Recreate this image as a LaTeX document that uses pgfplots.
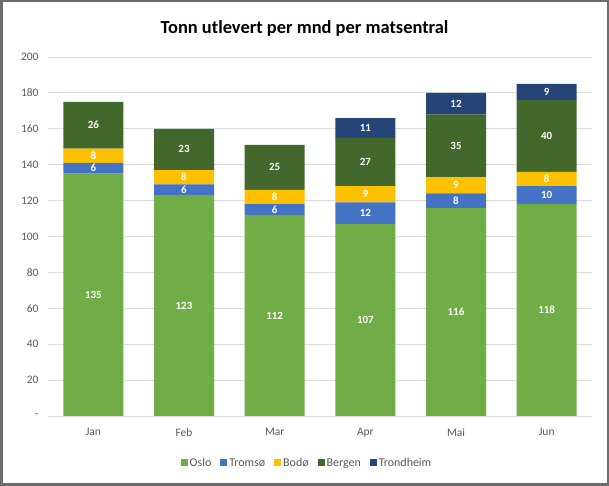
\documentclass[border=0pt]{standalone}
\usepackage{fontspec}
\setmainfont{Carlito}
\usepackage{pgfplots}
\pgfplotsset{compat=1.18}
\usepackage{pgfplotstable}

\definecolor{oslo}{HTML}{70AD47}
\definecolor{tromso}{HTML}{4472C4}
\definecolor{bodo}{HTML}{FFC000}
\definecolor{bergen}{HTML}{43682B}
\definecolor{trond}{HTML}{264478}
\definecolor{gridgray}{HTML}{D9D9D9}
\definecolor{txtgray}{HTML}{595959}

% tonn per month, one column per matsentral
\pgfplotstableread{
x oslo tromso bodo bergen trond
0 135 6 8 26 0
1 123 6 8 23 0
2 112 6 8 25 0
3 107 12 9 27 11
4 116 8 9 35 12
5 118 10 8 40 9
}\datatable

\begin{document}
\begin{tikzpicture}[x=1bp,y=1bp]
\path[use as bounding box] (0,0) rectangle (609,486);
\draw[line width=2.5bp, draw=gray!85!black, fill=white] (1.25,1.25) rectangle (607.75,484.75);
\node[font=\bfseries\fontsize{18.5}{22}\selectfont] at (304.5,458) {Tonn utlevert per mnd per matsentral};

\begin{axis}[
    at={(48bp,70bp)}, anchor=south west,
    scale only axis,
    width=544bp, height=359bp,
    ybar stacked,
    bar width=60bp,
    xmin=-0.5, xmax=5.5,
    ymin=0, ymax=200,
    xtick={0,...,5},
    xticklabels={Jan,Feb,Mar,Apr,Mai,Jun},
    ytick={0,20,...,200},
    yticklabels={-,20,40,60,80,100,120,140,160,180,200},
    axis line style={draw=none},
    major tick length=0pt,
    ymajorgrids,
    grid style={gridgray, line width=0.9bp},
    tick label style={font=\fontsize{11.5}{13}\selectfont, text=txtgray},
    xticklabel style={yshift=-9bp},
    yticklabel style={xshift=-6bp},
    clip=false,
    /pgf/number format/assume math mode=true,
    visualization depends on=rawy \as \rawy,
    nodes near coords={\ifdim\rawy pt=0pt\else\pgfmathprintnumber[fixed,precision=0]{\rawy}\fi},
    every node near coord/.append style={
        anchor=center, text=white,
        font=\bfseries\fontsize{11}{13}\selectfont},
    legend columns=-1,
    legend style={draw=none, fill=none,
        at={(axis description cs:0.5,0)}, anchor=center,
        yshift=-47bp, xshift=-13bp,
        font=\fontsize{12}{14}\selectfont, text=txtgray,
        /tikz/every even column/.append style={column sep=7bp}},
    legend image code/.code={\fill[#1] (0bp,-3.5bp) rectangle (7bp,3.5bp);},
]
\addplot[fill=oslo, draw=none] table[x=x, y=oslo] {\datatable};
\addplot[fill=tromso, draw=none] table[x=x, y=tromso] {\datatable};
\addplot[fill=bodo, draw=none] table[x=x, y=bodo] {\datatable};
\addplot[fill=bergen, draw=none] table[x=x, y=bergen] {\datatable};
\addplot[fill=trond, draw=none] table[x=x, y=trond] {\datatable};
\legend{Oslo,Tromsø,Bodø,Bergen,Trondheim}
\end{axis}
\end{tikzpicture}
\end{document}
